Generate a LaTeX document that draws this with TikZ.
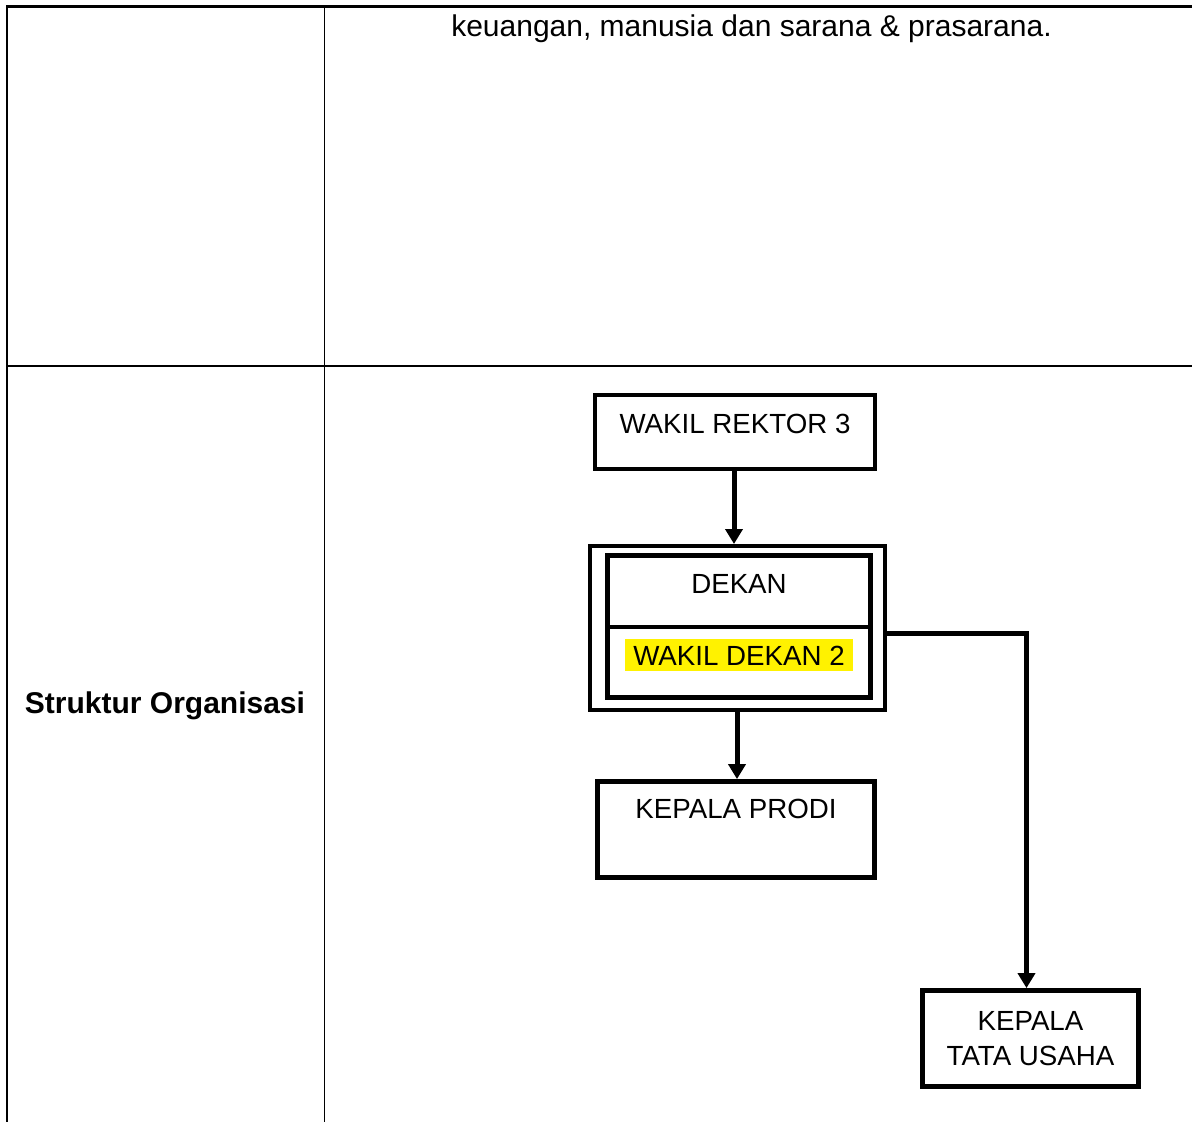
\documentclass[tikz,border=0pt]{standalone}
\usepackage{fontspec}
\setmainfont{Liberation Sans}
\usetikzlibrary{arrows.meta}
\tikzset{
  txt/.style={font=\fontsize{30}{35}\selectfont},
  btxt/.style={font=\fontsize{27.7}{35}\selectfont},
  orgbox/.style={draw, line width=4.8pt, rectangle, inner sep=0pt, btxt, align=center},
  conn/.style={line width=5pt, -{Triangle[width=17pt,length=15pt]}},
  grid/.style={line width=1.5pt}
}
\begin{document}
\begin{tikzpicture}[x=1pt,y=-1pt]
\useasboundingbox (0,0) rectangle (1192,1122);
% table lines
\draw[line width=2.6pt] (7,1122) -- (7,6.5) -- (1192,6.5);
\draw[grid] (324.5,6.5) -- (324.5,1122);
\draw[line width=2.2pt] (7,366) -- (1192,366);
% texts in table
\node[txt, anchor=base] (toptext) at (751.5,36) {keuangan, manusia dan sarana \& prasarana.};
\node[anchor=base, font=\fontsize{30}{35}\selectfont\bfseries] (label) at (165,713) {Struktur Organisasi};
% org chart
\node[orgbox, minimum width=280pt, text height=38pt, text depth=36pt, anchor=base] (wr) at (735,433) {WAKIL REKTOR 3};
\node[draw, line width=4pt, rectangle, minimum width=295pt, minimum height=164pt, inner sep=0pt] (dekanouter) at (737.5,628) {};
\node[orgbox, minimum width=263pt, text height=37.5pt, text depth=104.5pt, anchor=base] (dekan) at (739,593) {DEKAN};
\coordinate (divy) at (0,627);
\draw[line width=4.8pt] (dekan.west |- divy) -- (dekan.east |- divy);
\node[btxt, fill=yellow, inner sep=0pt, inner xsep=8pt, text height=26pt, text depth=6pt, anchor=base] (wd) at (739,665) {WAKIL DEKAN 2};
\node[orgbox, minimum width=277pt, text height=36.5pt, text depth=59.5pt, anchor=base] (kp) at (736,818) {KEPALA PRODI};
\node[orgbox, minimum width=216pt, minimum height=96pt] (ktu) at (1030.5,1038.5) {KEPALA\\TATA USAHA};
% connectors
\draw[conn] (wr.south -| 734,0) -- (dekanouter.north -| 734,0);
\draw[conn] (dekanouter.south -| 737,0) -- (kp.north -| 737,0);
\draw[conn] ([yshift=-5pt]dekanouter.east) -| ([xshift=-4pt]ktu.north);
\end{tikzpicture}
\end{document}
